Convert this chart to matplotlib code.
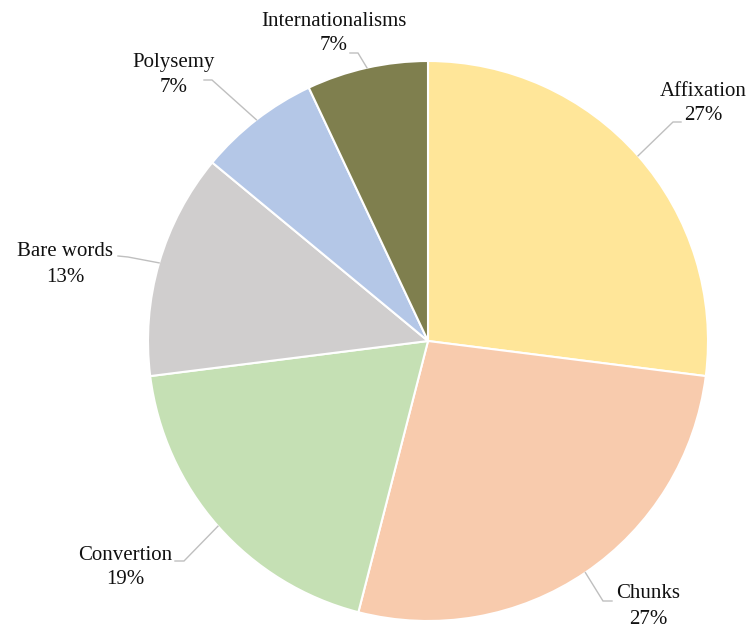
import numpy as np
import matplotlib

matplotlib.use("Agg")
import matplotlib.pyplot as plt

# word-formation methods and their share of the sample (%)
categories = ["Affixation", "Chunks", "Convertion", "Bare words", "Polysemy", "Internationalisms"]
shares = [27, 27, 19, 13, 7, 7]
colors = ["#FFE699", "#F8CBAD", "#C5E0B4", "#D0CECE", "#B4C7E7", "#7F7F4E"]

# label layout in pixel space: name centre, leader elbow, leader end
name_pos = [(703, 91), (648, 594), (125, 555), (65, 252), (174, 62), (334, 21)]
elbows = [(673, 122), (603, 601), (184, 561), (128, 257), (212, 80), (358, 53)]
line_ends = [(681, 122), (612, 601), (175, 561), (118, 256), (204, 80), (350, 53)]
LINE_GAP = 25

W, H = 749, 630
CENTER = (428, 341)
RADIUS = 280

fig = plt.figure(figsize=(W / 100, H / 100), dpi=100)
ax = fig.add_axes([0, 0, 1, 1])

# y axis runs downward, so counterclockwise in data space is clockwise on screen
wedges, _ = ax.pie(shares, colors=colors, startangle=-90, counterclock=True,
                   center=CENTER, radius=RADIUS,
                   wedgeprops=dict(edgecolor="white", linewidth=1.5))
ax.set_xlim(0, W)
ax.set_ylim(H, 0)
ax.set_aspect("equal")
ax.axis("off")

font = dict(fontsize=15, family="Liberation Serif", color="#111111", ha="center", va="center")
for w, name, val, pos, elb, end in zip(wedges, categories, shares, name_pos, elbows, line_ends):
    mid = np.deg2rad((w.theta1 + w.theta2) / 2)
    rim = (CENTER[0] + RADIUS * np.cos(mid), CENTER[1] + RADIUS * np.sin(mid))
    ax.plot([rim[0], elb[0], end[0]], [rim[1], elb[1], end[1]],
            color="#BFBFBF", linewidth=1.0, solid_joinstyle="miter")
    ax.text(pos[0], pos[1], name, **font)
    ax.text(pos[0], pos[1] + LINE_GAP, f"{val}%", **font)

fig.savefig("out.png", dpi=100)
plt.close(fig)
